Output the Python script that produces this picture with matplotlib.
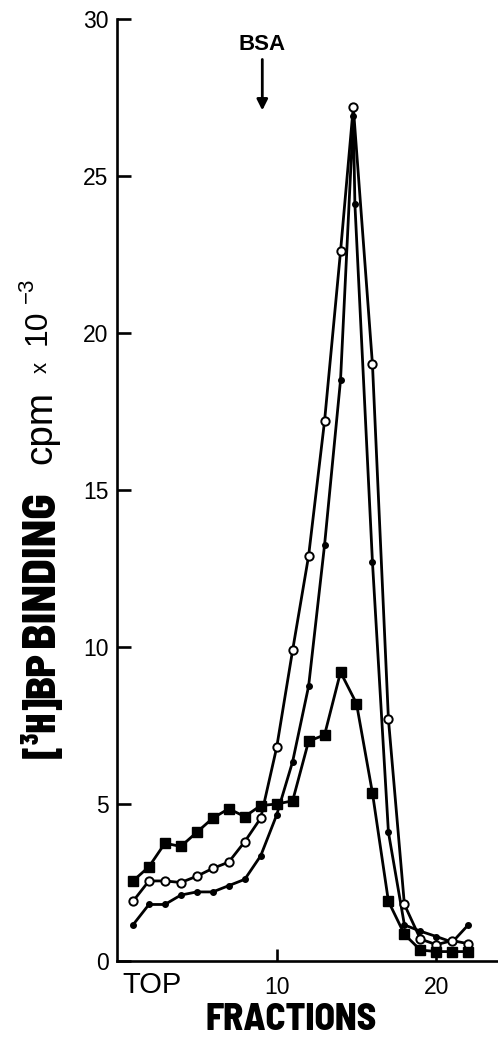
import matplotlib
matplotlib.use("Agg")
import matplotlib.pyplot as plt
from matplotlib import font_manager

# fractions and binding values (cpm x 10^-3)
sq_frac = [1, 2, 3, 4, 5, 6, 7, 8, 9, 10, 11, 12, 13, 14, 15, 16, 17, 18, 19, 20, 21, 22]
sq_cpm = [2.55, 3.0, 3.75, 3.65, 4.1, 4.55, 4.85, 4.6, 4.95, 5.0, 5.1, 7.0, 7.2, 9.2, 8.2,
          5.35, 1.9, 0.85, 0.35, 0.3, 0.3, 0.3]

open_frac = [1, 2, 3, 4, 5, 6, 7, 8, 9, 10, 11, 12, 13, 14, 14.8, 16, 17, 18, 19, 20, 21, 22]
open_cpm = [1.9, 2.55, 2.55, 2.5, 2.7, 2.95, 3.15, 3.8, 4.55, 6.8, 9.9, 12.9, 17.2, 22.6, 27.2,
            19.0, 7.7, 1.8, 0.7, 0.52, 0.65, 0.55]

dot_frac = [1, 2, 3, 4, 5, 6, 7, 8, 9, 10, 11, 12, 13, 14, 14.8, 14.9, 16, 17, 18, 19, 20, 21, 22]
dot_cpm = [1.15, 1.8, 1.8, 2.1, 2.2, 2.2, 2.4, 2.6, 3.35, 4.65, 6.35, 8.75, 13.25, 18.5, 26.9,
           24.1, 12.7, 4.1, 1.15, 0.95, 0.78, 0.6, 1.15]

y_ticks = [0, 5, 10, 15, 20, 25, 30]
x_ticks = [10, 20]
bsa_frac = 9.1

W, H = 498, 1040

# condensed heavy faces for the bold labels; fall back to DejaVu condensed
installed = {f.name for f in font_manager.fontManager.ttflist}
if "Barlow Semi Condensed" in installed:
    heavy = dict(family="Barlow Semi Condensed", fontweight=800)
else:
    heavy = dict(family="DejaVu Sans", fontstretch="condensed", fontweight="bold")
if "Barlow Condensed" in installed:
    narrow = dict(family="Barlow Condensed", fontweight=800)
else:
    narrow = heavy
plain = "Liberation Sans"

plt.rcParams["font.family"] = [plain, "DejaVu Sans"]

fig = plt.figure(figsize=(W / 100, H / 100), dpi=100)
ax = fig.add_axes([117 / W, (H - 961) / H, 380 / W, 942 / H])

ax.plot(dot_frac, dot_cpm, color="black", lw=2.0, marker="o", ms=4, mfc="black",
        mec="black", clip_on=False, zorder=3)
ax.plot(open_frac, open_cpm, color="black", lw=2.0, marker="o", ms=6, mfc="white",
        mec="black", mew=1.4, clip_on=False, zorder=4)
ax.plot(sq_frac, sq_cpm, color="black", lw=2.0, marker="s", ms=7, mfc="black",
        mec="black", clip_on=False, zorder=5)

ax.set_xlim(0, 23.8)
ax.set_ylim(0, 30)
for side in ["top", "right"]:
    ax.spines[side].set_visible(False)
for side in ["left", "bottom"]:
    ax.spines[side].set_linewidth(1.9)

ax.set_yticks(y_ticks)
ax.set_xticks(x_ticks)
ax.tick_params(axis="y", direction="in", length=10, width=1.9, pad=6, labelsize=16.5)
ax.tick_params(axis="x", direction="in", length=9, width=1.9, pad=11, labelsize=16.5)

# BSA marker
ax.text(bsa_frac, 29.0, "BSA", ha="center", va="baseline", fontsize=16, fontweight="bold")
ax.annotate("", xy=(bsa_frac, 27.0), xytext=(bsa_frac, 28.8),
            arrowprops=dict(arrowstyle="-|>", lw=2, color="black", mutation_scale=16))

renderer = fig.canvas.get_renderer()


def fit(t, length, vertical, lo, hi):
    # scale the font so the text spans about `length` pixels
    bb = t.get_window_extent(renderer)
    cur = bb.height if vertical else bb.width
    size = t.get_fontsize() * length / cur
    t.set_fontsize(min(max(size, lo), hi))


# x axis labels
fig.text(152 / W, (H - 993) / H, "TOP", ha="center", va="baseline", fontsize=21)
t = fig.text(291 / W, (H - 1030) / H, "FRACTIONS", ha="center", va="baseline",
             fontsize=25, **heavy)
fit(t, 172, False, 22, 27)


# y axis label, built up piece by piece (reads bottom to top)
def ylab(s, x_base, y_start, size, length=None, lo=8, hi=60, **kw):
    kw.setdefault("family", plain)
    t = fig.text(x_base / W, (H - y_start) / H, s, rotation=90, rotation_mode="anchor",
                 ha="left", va="baseline", fontsize=size, **kw)
    if length:
        fit(t, length, True, lo, hi)
    return t


ylab("[³H]", 55, 758, 30, **narrow)
ylab("BP", 54, 698, 33, 46, 28, 36, **heavy)
ylab("BINDING", 54, 647, 33, 155, 28, 36, **heavy)
ylab("cpm", 51, 464, 25, 73, 22, 28)
ylab("x", 47, 373, 16)
ylab("10", 46, 345, 23)
ylab("\u22123", 33, 303, 16)

fig.savefig("out.png", dpi=100)
